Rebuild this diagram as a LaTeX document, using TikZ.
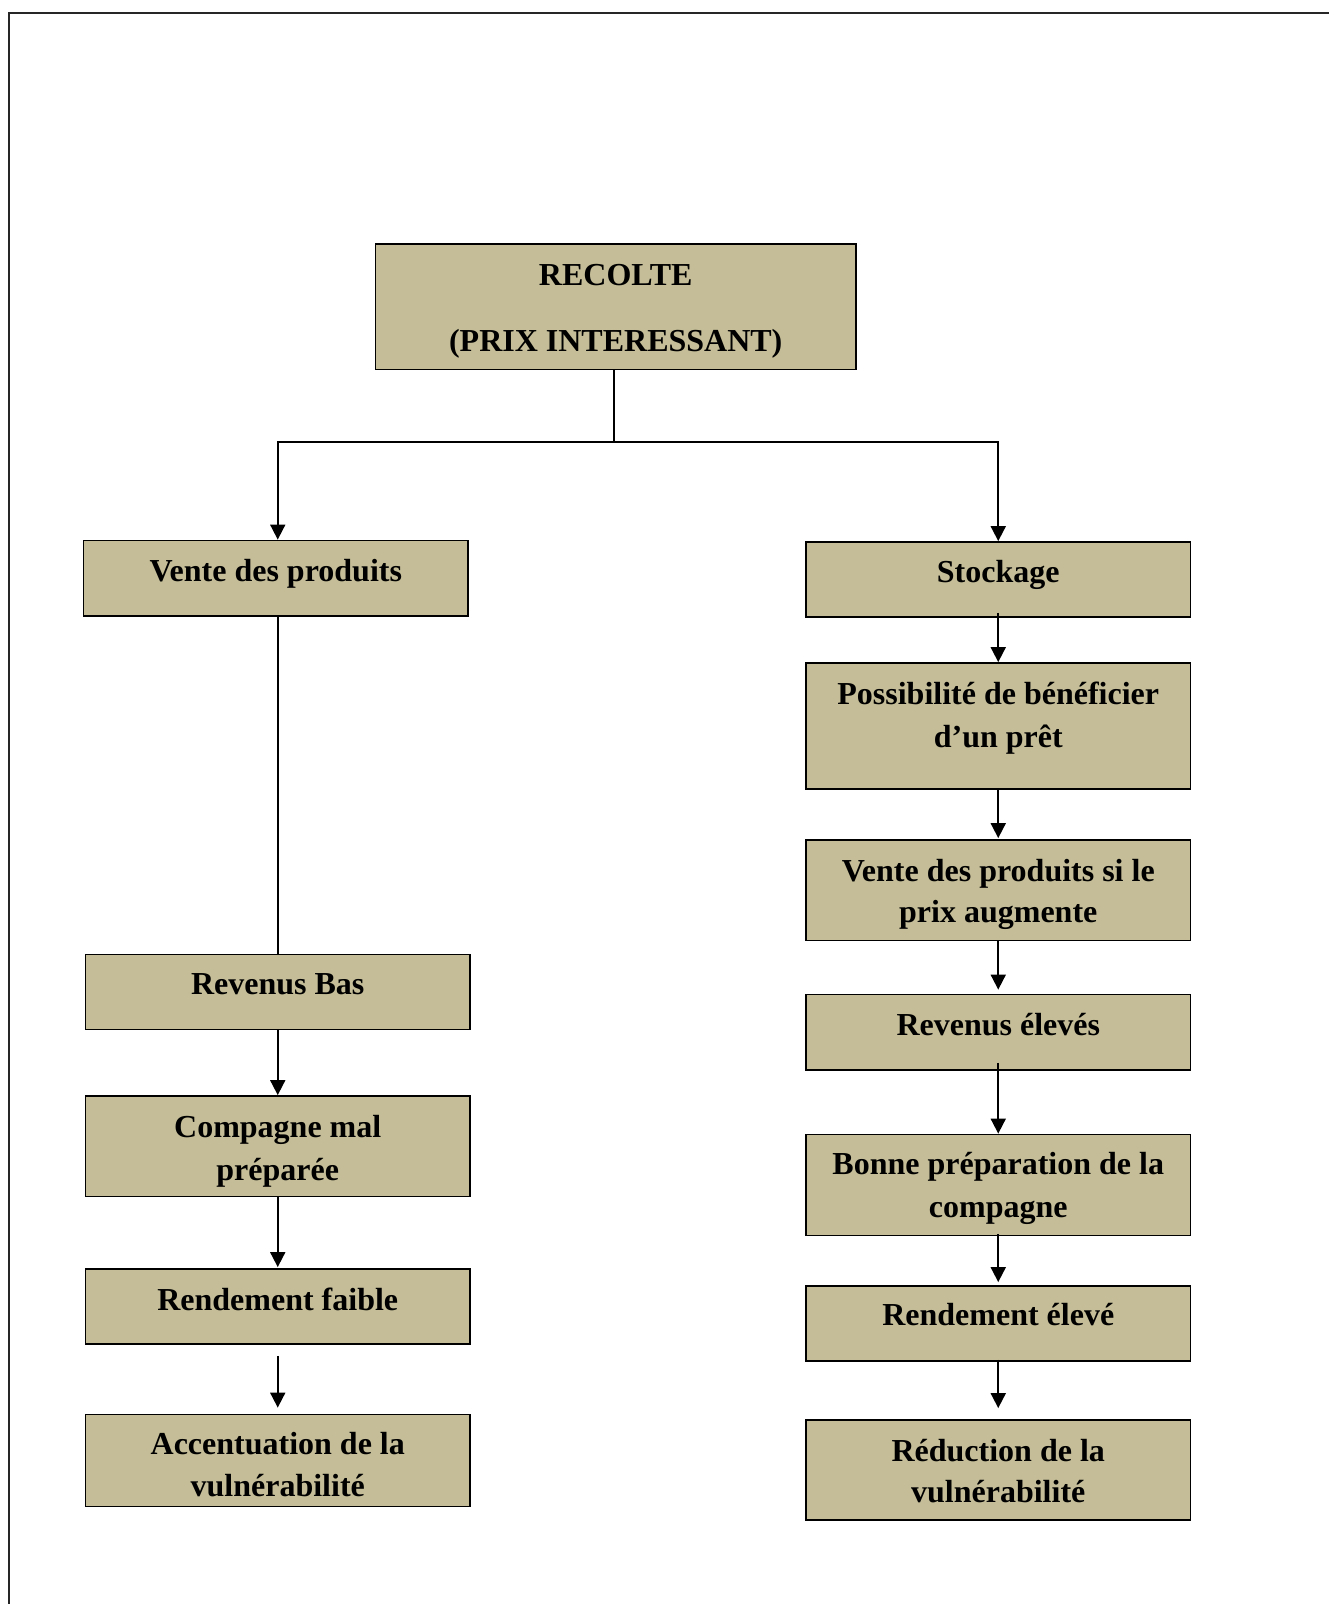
\documentclass[tikz,border=0pt]{standalone}
\usepackage{fontspec}
\setmainfont{Liberation Serif}
\usetikzlibrary{arrows.meta}
\definecolor{tanfill}{HTML}{C4BD97}
\begin{document}
\begin{tikzpicture}[x=1pt,y=-1pt,
  boxst/.style={draw=black, line width=1.8pt, fill=tanfill, rectangle, inner sep=0pt, minimum width=384.5pt},
  txt/.style={anchor=base, inner sep=0pt, font=\fontsize{32}{38}\selectfont\bfseries},
  arr/.style={line width=1.8pt, -{Triangle[width=15pt,length=15pt]}},
  ln/.style={line width=1.8pt}]
\useasboundingbox (0,0) rectangle (1329,1604);
% frame
\draw[line width=2pt, black!85] (8.5,1604) -- (8.5,12.5) -- (1329,12.5);
% boxes
\node[boxst, minimum width=480.5pt, minimum height=125.5pt] (R0) at (615.75,306.75) {};
\node[boxst, minimum height=75.5pt] (L1) at (275.75,578.25) {};
\node[boxst, minimum height=75pt] (L2) at (277.75,992) {};
\node[boxst, minimum height=100.5pt] (L3) at (277.75,1146.25) {};
\node[boxst, minimum height=75pt] (L4) at (277.75,1306.5) {};
\node[boxst, minimum height=92pt] (L5) at (277.75,1460.5) {};
\node[boxst, minimum height=75pt] (S1) at (998.25,579.5) {};
\node[boxst, minimum height=126pt] (S2) at (998.25,726) {};
\node[boxst, minimum height=100.5pt] (S3) at (998.25,890.25) {};
\node[boxst, minimum height=75.5pt] (S4) at (998.25,1032.25) {};
\node[boxst, minimum height=101pt] (S5) at (998.25,1185) {};
\node[boxst, minimum height=75pt] (S6) at (998.25,1323.5) {};
\node[boxst, minimum height=100pt] (S7) at (998.25,1470) {};
% texts
\node[txt] (tR0a) at (615.75,285) {RECOLTE};
\node[txt] (tR0b) at (615.75,351) {(PRIX INTERESSANT)};
\node[txt] (tL1) at (275.75,581.5) {Vente des produits};
\node[txt] (tL2) at (277.75,994.5) {Revenus Bas};
\node[txt] (tL3a) at (277.75,1137) {Compagne mal};
\node[txt] (tL3b) at (277.75,1180) {préparée};
\node[txt] (tL4) at (277.75,1310) {Rendement faible};
\node[txt] (tL5a) at (277.75,1454.5) {Accentuation de la};
\node[txt] (tL5b) at (277.75,1496) {vulnérabilité};
\node[txt] (tS1) at (998.25,582.5) {Stockage};
\node[txt] (tS2a) at (998.25,704) {Possibilité de bénéficier};
\node[txt] (tS2b) at (998.25,747) {d’un prêt};
\node[txt] (tS3a) at (998.25,881) {Vente des produits si le};
\node[txt] (tS3b) at (998.25,922) {prix augmente};
\node[txt] (tS4) at (998.25,1035) {Revenus élevés};
\node[txt] (tS5a) at (998.25,1174.5) {Bonne préparation de la};
\node[txt] (tS5b) at (998.25,1217.5) {compagne};
\node[txt] (tS6) at (998.25,1325.5) {Rendement élevé};
\node[txt] (tS7a) at (998.25,1461) {Réduction de la};
\node[txt] (tS7b) at (998.25,1502) {vulnérabilité};
% connectors
\coordinate (J) at (614,442);
\draw[ln] (R0.south -| J) -- (J);
\draw[arr] (J) -| ([xshift=2pt]L1.north);
\draw[arr] (J) -| (S1.north);
\draw[ln] ([xshift=2pt]L1.south) -- (L2.north);
\draw[arr] (L2.south) -- (L3.north);
\draw[arr] (L3.south) -- ([yshift=1pt]L4.north);
\draw[arr] ([yshift=-11pt]L4.south) -- ([yshift=6pt]L5.north);
\draw[arr] ([yshift=5pt]S1.south) -- (S2.north);
\draw[arr] (S2.south) -- ([yshift=1pt]S3.north);
\draw[arr] (S3.south) -- ([yshift=4pt]S4.north);
\draw[arr] ([yshift=8pt]S4.south) -- (S5.north);
\draw[arr] ([yshift=2pt]S5.south) -- ([yshift=3pt]S6.north);
\draw[arr] ([yshift=2pt]S6.south) -- ([yshift=11pt]S7.north);
\end{tikzpicture}
\end{document}
